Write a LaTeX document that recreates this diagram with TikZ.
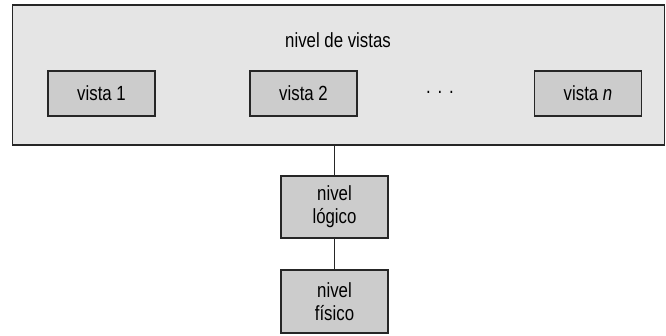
\documentclass[tikz,border=0pt]{standalone}
\usepackage{fontspec}
\setmainfont{Liberation Sans}[FakeStretch=0.82]

\begin{document}
\begin{tikzpicture}[x=1pt,y=-1pt,
    outerbox/.style={draw=black!85,line width=1.2pt,fill=black!10,inner sep=0pt},
    levelbox/.style={draw=black!85,line width=1.2pt,fill=black!20,inner sep=0pt,align=center,minimum width=107pt},
    every node/.style={font=\fontsize{20.5}{23}\selectfont}]
\useasboundingbox (0,0) rectangle (666,335);

% nivel de vistas
\node[outerbox,minimum width=652pt,minimum height=140pt] (vistas) at (338.5,75) {};
\node (titulo) at (338,40) {nivel de vistas};

\node[levelbox,minimum height=45pt] (vista1) at (101.5,93.5) {vista 1};
\node[levelbox,minimum height=45pt] (vista2) at (303.5,93.5) {vista 2};
\node (puntos) at (440,92) {.\,\,.\,\,.};
\node[levelbox,minimum height=45pt] (vistan) at (588,93.5) {vista \textit{n}};

% niveles inferiores
\node[levelbox,minimum height=62pt] (logico) at (334.5,207) {nivel\\lógico};
\node[levelbox,minimum height=63pt] (fisico) at (334.5,301.5) {nivel\\físico};

\draw[black!85,line width=1.2pt] (logico.north |- vistas.south) -- (logico.north);
\draw[black!85,line width=1.2pt] (logico.south) -- (fisico.north);

\end{tikzpicture}
\end{document}
